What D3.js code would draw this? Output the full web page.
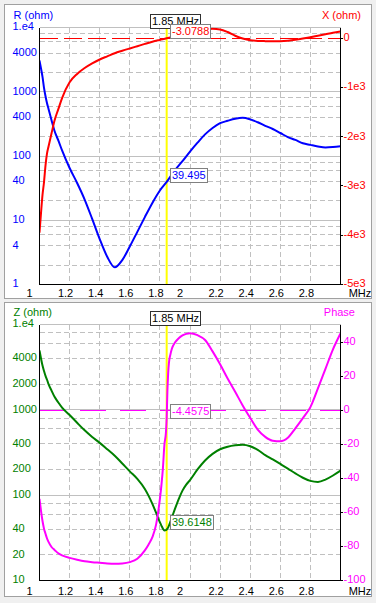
<!DOCTYPE html>
<html><head><meta charset="utf-8">
<script src="https://cdn.jsdelivr.net/npm/d3@7"></script>
<style>
html,body{margin:0;padding:0;background:#f0f0f0;}
svg{display:block;}
text{font-family:"Liberation Sans",Arial,sans-serif;font-size:11px;}
</style></head><body>
<svg id="chart" width="376" height="603"></svg>
<script>
// ---------- data ----------
const freqTop = [1.00,1.01,1.02,1.03,1.04,1.05,1.06,1.08,1.10,1.125,1.15,1.20,1.25,1.30,1.35,1.40,1.45,1.50,1.55,1.60,1.65,1.70,1.75,1.80,1.845,1.90,1.95,2.00,2.05,2.10,2.15,2.20,2.25,2.30,2.35,2.40,2.45,2.50,2.55,2.60,2.65,2.70,2.75,2.80,2.85,2.90,2.95,3.00];
const resistance = [3060,2300,1700,1150,850,660,540,360,245,175,122,65,38,21,10.5,5.1,2.7,1.85,2.4,3.9,6.6,11.2,18.6,29,39.495,60,83,117,161,217,273,324,353,380,393,372,335,295,263,228,197,178,158,149,141,136,138,142];
const reactance = [-3950,-3550,-3180,-2920,-2580,-2340,-2200,-1930,-1670,-1440,-1215,-895,-725,-605,-510,-432,-368,-305,-255,-208,-162,-116,-72,-35,-3.0788,45,90,125,160,182,190,178,125,50,-5,-42,-55,-60,-62,-60,-50,-32,-8,20,50,80,110,136];

const freqBottom = [1.00,1.01,1.02,1.03,1.04,1.05,1.06,1.08,1.10,1.125,1.15,1.20,1.25,1.30,1.35,1.40,1.45,1.50,1.55,1.60,1.65,1.70,1.725,1.75,1.775,1.80,1.81,1.82,1.83,1.84,1.845,1.85,1.855,1.86,1.87,1.88,1.90,1.925,1.95,1.975,2.00,2.05,2.10,2.15,2.20,2.25,2.30,2.35,2.40,2.45,2.50,2.55,2.60,2.65,2.70,2.75,2.80,2.85,2.90,2.95,3.00];
const impedance = [4950,4000,3300,2850,2500,2250,2000,1680,1420,1220,1060,870,705,575,480,410,345,290,235,190,155,118,98,79,62,48,44,40.5,38.6,39,39.6148,40.5,42,44,49,55,69,90,113,133,150,200,255,305,345,370,385,390,375,340,295,262,232,205,180,160,147,143,152,170,194];
const phase = [-52,-59,-65,-69.5,-72.5,-75.3,-77.3,-80.3,-82,-84,-85.2,-86.7,-87.8,-88.7,-89.2,-89.6,-90,-90.2,-90,-89.2,-87.2,-82.3,-78.8,-74.5,-67,-52,-44,-34,-20,-13,-4.4575,12,22,28,33,36.5,40,42.5,44.2,45.1,45.5,44.3,41.5,34.8,27.2,18.8,11,3,-4.3,-11.2,-15.5,-17.8,-18.1,-16,-10.5,-4.5,2,13,24.5,36,45.3];

const freqTicks = [1,1.2,1.4,1.6,1.8,2,2.2,2.4,2.6,2.8];
const freqTickLabels = ["1","1.2","1.4","1.6","1.8","2","2.2","2.4","2.6","2.8"];
const rTicks = [10000,4000,1000,400,100,40,10,4,1];
const rTickLabels = ["1.e4","4000","1000","400","100","40","10","4","1"];
const xTicksR = [0,-1000,-2000,-3000,-4000,-5000];
const xTickLabelsR = ["0","-1e3","-2e3","-3e3","-4e3","-5e3"];
const zTicks = [10000,4000,2000,1000,400,200,100,40,20,10];
const zTickLabels = ["1.e4","4000","2000","1000","400","200","100","40","20","10"];
const phaseTicks = [40,20,0,-20,-40,-60,-80,-100];
const phaseTickLabels = ["40","20","0","-20","-40","-60","-80","-100"];

const cursorFreq = 1.845;
const cursorText = "1.85 MHz";
const cursorR = 39.495, cursorX = -3.0788, cursorZ = 39.6148, cursorPhase = -4.4575;

// ---------- drawing ----------
const svg = d3.select("#chart");
const PL = 39.5, PR = 340.5;
const x = d3.scaleLinear().domain([1,3]).range([PL, PR]);

function drawPanel(o){
  const g = svg.append("g");
  g.append("rect").attr("x",4.5).attr("y",o.py+0.5).attr("width",367).attr("height",o.ph)
    .attr("fill","#fff").attr("stroke","#a0a0a0");
  const yL = d3.scaleLog().domain(o.leftDomain).range([o.bottom, o.top]);
  const yR = d3.scaleLinear().domain(o.rightDomain).range([o.bottom, o.top]);

  // grid
  const grid = g.append("g").attr("shape-rendering","crispEdges").attr("stroke","#c0c0c0").attr("stroke-width",1);
  const e0 = Math.round(Math.log10(o.leftDomain[0])), e1 = Math.round(Math.log10(o.leftDomain[1]));
  const decades = d3.range(e0, e1).map(e => Math.pow(10,e));
  const minor = decades.flatMap(d => [2,4,6,8].map(m => d*m));
  const major = decades.slice(1).concat([o.leftDomain[1]]);
  grid.selectAll("line.mn").data(minor).join("line").attr("class","mn")
    .attr("x1",PL).attr("x2",PR).attr("y1",d=>yL(d)).attr("y2",d=>yL(d)).attr("stroke-dasharray","5,3");
  grid.selectAll("line.mj").data(major).join("line").attr("class","mj")
    .attr("x1",PL).attr("x2",PR).attr("y1",d=>yL(d)).attr("y2",d=>yL(d));
  grid.selectAll("line.vg").data(freqTicks.slice(1)).join("line").attr("class","vg")
    .attr("x1",d=>x(d)).attr("x2",d=>x(d)).attr("y1",o.top).attr("y2",o.bottom).attr("stroke-dasharray","5,3");

  // zero reference line of right axis
  g.append("line").attr("x1",PL).attr("x2",PR).attr("y1",yR(0)).attr("y2",yR(0))
    .attr("stroke",o.rightColor).attr("stroke-width",1).attr("stroke-dasharray",o.zeroDash)
    .attr("shape-rendering","crispEdges");

  // cursor line
  const cx = x(cursorFreq);
  g.append("line").attr("x1",cx).attr("x2",cx).attr("y1",o.top).attr("y2",o.bottom)
    .attr("stroke","#ffff00").attr("stroke-width",2);

  // curves
  const clipId = "clip"+o.py;
  svg.append("clipPath").attr("id",clipId).append("rect")
    .attr("x",PL).attr("y",o.top).attr("width",PR-PL).attr("height",o.bottom-o.top);
  const lineL = d3.line().x((d,i)=>x(o.freq[i])).y(d=>yL(d)).curve(d3.curveMonotoneX);
  const lineR = d3.line().x((d,i)=>x(o.freq[i])).y(d=>yR(d)).curve(d3.curveMonotoneX);
  g.append("path").attr("d",lineL(o.leftSeries)).attr("fill","none").attr("stroke",o.leftColor)
    .attr("stroke-width",2).attr("clip-path",`url(#${clipId})`);
  g.append("path").attr("d",lineR(o.rightSeries)).attr("fill","none").attr("stroke",o.rightColor)
    .attr("stroke-width",2).attr("clip-path",`url(#${clipId})`);

  // axes lines
  const ax = g.append("g").attr("stroke","#000").attr("stroke-width",1).attr("shape-rendering","crispEdges");
  ax.append("line").attr("x1",PL).attr("x2",PL).attr("y1",o.top).attr("y2",o.bottom);
  ax.append("line").attr("x1",PR).attr("x2",PR).attr("y1",o.top).attr("y2",o.bottom);
  ax.append("line").attr("x1",PL).attr("x2",PR).attr("y1",o.bottom).attr("y2",o.bottom);
  ax.selectAll("line.rt").data(o.rightTicks).join("line").attr("class","rt")
    .attr("x1",PR).attr("x2",PR+2).attr("y1",d=>yR(d)).attr("y2",d=>yR(d));

  // left labels
  g.selectAll("text.ll").data(o.leftTicks).join("text").attr("class","ll")
    .attr("x",12.5).attr("y",d=>yL(d)-1).attr("dy","0.35em").attr("fill",o.leftColor)
    .text((d,i)=>o.leftTickLabels[i]);
  // right labels
  g.selectAll("text.rl").data(o.rightTicks).join("text").attr("class","rl")
    .attr("x",343.5).attr("y",d=>yR(d)-1).attr("dy","0.35em").attr("fill",o.rightColor)
    .text((d,i)=>o.rightTickLabels[i]);
  // x labels
  g.selectAll("text.xl").data(freqTicks).join("text").attr("class","xl")
    .attr("x",(d,i)=> x(d) - (freqTickLabels[i].includes(".") ? 4 : 10))
    .attr("y",o.bottom+o.xLabelOff).attr("dy","0.35em").attr("text-anchor","middle").attr("fill","#000")
    .text((d,i)=>freqTickLabels[i]);
  g.append("text").attr("x",360).attr("y",o.bottom+o.xLabelOff).attr("dy","0.35em")
    .attr("text-anchor","middle").text("MHz");

  // titles
  g.append("text").attr("x",13.5).attr("y",o.titleY).attr("dy","0.35em").attr("fill",o.leftColor).text(o.leftTitle);
  g.append("text").attr("x",o.rightTitleX).attr("y",o.titleY).attr("dy","0.35em").attr("text-anchor","end")
    .attr("fill",o.rightColor).text(o.rightTitle);

  // cursor frequency box
  function box(txt, left, bottomY, color, stroke, center){
    const bg = g.append("g");
    const t = bg.append("text").attr("fill",color).text(txt);
    const w = t.node().getComputedTextLength() + 3;
    const bx = center ? Math.round(left - w/2) + 0.5 : Math.round(left) + 0.5;
    const by = Math.round(bottomY) - 14 + 0.5;
    bg.insert("rect","text").attr("x",bx).attr("y",by).attr("width",w).attr("height",13.5)
      .attr("fill","#fff").attr("stroke",stroke).attr("shape-rendering","crispEdges");
    t.attr("x",bx + w/2).attr("y",by+7).attr("dy","0.35em").attr("text-anchor","middle");
  }
  box(cursorText, cx + 8, o.top, "#000", "#303030", true);
  box(o.rightCursorText, cx + 3, yR(o.rightCursor), o.rightColor, "#808080", false);
  box(o.leftCursorText, cx + 3, yL(o.leftCursor), o.leftColor, "#808080", false);
}

drawPanel({
  py:4, ph:294, top:27.5, bottom:284.5, titleY:15, xLabelOff:9, rightTitleX:361,
  leftDomain:[1,10000], rightDomain:[-5000,217],
  freq:freqTop, leftSeries:resistance, rightSeries:reactance,
  leftColor:"#0000ff", rightColor:"#ff0000", zeroDash:"18,6",
  leftTicks:rTicks, leftTickLabels:rTickLabels, rightTicks:xTicksR, rightTickLabels:xTickLabelsR,
  leftTitle:"R (ohm)", rightTitle:"X (ohm)",
  leftCursor:cursorR, leftCursorText:String(cursorR), rightCursor:cursorX, rightCursorText:String(cursorX)
});
drawPanel({
  py:302, ph:294, top:324.5, bottom:580.5, titleY:312, xLabelOff:11, rightTitleX:355,
  leftDomain:[10,10000], rightDomain:[-100,50.6],
  freq:freqBottom, leftSeries:impedance, rightSeries:phase,
  leftColor:"#008000", rightColor:"#ff00ff", zeroDash:"26,14",
  leftTicks:zTicks, leftTickLabels:zTickLabels, rightTicks:phaseTicks, rightTickLabels:phaseTickLabels,
  leftTitle:"Z (ohm)", rightTitle:"Phase",
  leftCursor:cursorZ, leftCursorText:String(cursorZ), rightCursor:cursorPhase, rightCursorText:String(cursorPhase)
});
</script>
</body></html>
